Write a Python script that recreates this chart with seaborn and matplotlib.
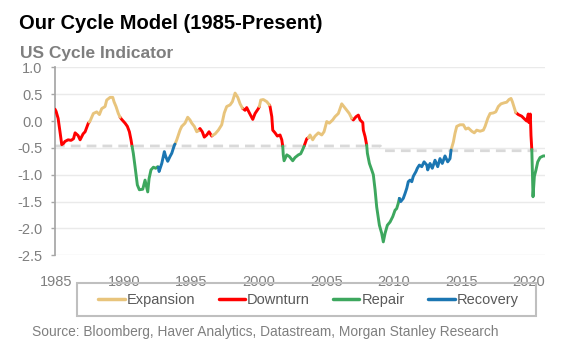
import matplotlib
matplotlib.use("Agg")
import numpy as np
import pandas as pd
import matplotlib.pyplot as plt
from matplotlib.lines import Line2D
from matplotlib.patches import Rectangle
import seaborn as sns

# US cycle indicator (year, value)
years = [1984.90, 1984.98, 1985.13, 1985.27, 1985.40, 1985.52, 1985.64, 1985.87, 1986.09, 1986.27,
         1986.39, 1986.61, 1986.76, 1986.98, 1987.13, 1987.37, 1987.44, 1987.50, 1987.74, 1987.99,
         1988.19, 1988.36, 1988.61, 1988.73, 1988.98, 1989.18, 1989.27, 1989.42, 1989.59, 1989.72,
         1989.84, 1990.09, 1990.26, 1990.41, 1990.53, 1990.61, 1990.70, 1990.83, 1991.00, 1991.15,
         1991.40, 1991.57, 1991.77, 1991.87, 1992.01, 1992.19, 1992.36, 1992.51, 1992.56, 1992.61,
         1992.81, 1993.00, 1993.10, 1993.25, 1993.42, 1993.55, 1993.74, 1993.79, 1993.92, 1994.16,
         1994.29, 1994.53, 1994.73, 1994.90, 1995.03, 1995.22, 1995.40, 1995.52, 1995.64, 1995.81,
         1995.96, 1996.14, 1996.31, 1996.51, 1996.56, 1996.76, 1997.00, 1997.25, 1997.44, 1997.62,
         1997.87, 1998.04, 1998.24, 1998.44, 1998.61, 1998.78, 1998.98, 1999.10, 1999.30, 1999.55,
         1999.72, 1999.96, 2000.04, 2000.14, 2000.33, 2000.59, 2000.78, 2000.83, 2000.96, 2001.03,
         2001.20, 2001.37, 2001.57, 2001.70, 2001.77, 2001.81, 2001.87, 2002.07, 2002.26, 2002.51,
         2002.68, 2002.93, 2003.10, 2003.25, 2003.35, 2003.42, 2003.55, 2003.67, 2003.79, 2003.99,
         2004.16, 2004.41, 2004.66, 2004.83, 2005.03, 2005.22, 2005.47, 2005.64, 2005.89, 2006.14,
         2006.39, 2006.70, 2006.88, 2007.00, 2007.20, 2007.37, 2007.50, 2007.70, 2007.74, 2007.87,
         2007.99, 2008.04, 2008.19, 2008.36, 2008.48, 2008.61, 2008.73, 2008.93, 2009.10, 2009.22,
         2009.35, 2009.52, 2009.72, 2009.92, 2010.09, 2010.21, 2010.33, 2010.41, 2010.51, 2010.70,
         2010.83, 2010.96, 2011.07, 2011.20, 2011.33, 2011.44, 2011.64, 2011.74, 2011.89, 2012.07,
         2012.24, 2012.44, 2012.51, 2012.68, 2012.85, 2013.05, 2013.25, 2013.42, 2013.59, 2013.79,
         2013.99, 2014.16, 2014.24, 2014.41, 2014.53, 2014.66, 2014.90, 2015.15, 2015.33, 2015.52,
         2015.77, 2015.96, 2016.14, 2016.39, 2016.63, 2016.76, 2016.96, 2017.13, 2017.37, 2017.55,
         2017.74, 2017.94, 2018.19, 2018.36, 2018.53, 2018.68, 2018.78, 2018.93, 2019.03, 2019.22,
         2019.47, 2019.67, 2019.84, 2019.96, 2020.01, 2020.11, 2020.16, 2020.22, 2020.26, 2020.31,
         2020.41, 2020.53, 2020.66, 2020.83, 2021.07, 2021.20]
values = [0.22, 0.18, 0.05, -0.20, -0.44, -0.42, -0.38, -0.35, -0.36, -0.33,
          -0.22, -0.27, -0.35, -0.24, -0.20, -0.04, -0.02, 0.00, 0.14, 0.17,
          0.12, 0.23, 0.27, 0.39, 0.44, 0.44, 0.36, 0.27, 0.14, 0.07,
          0.03, -0.04, -0.10, -0.20, -0.35, -0.47, -0.60, -0.85, -1.19, -1.28,
          -1.27, -1.10, -1.32, -1.07, -0.91, -0.86, -0.88, -0.85, -0.86, -0.94,
          -0.79, -0.57, -0.66, -0.75, -0.66, -0.60, -0.45, -0.43, -0.35, -0.17,
          -0.10, -0.04, 0.07, 0.02, -0.04, -0.10, -0.20, -0.18, -0.14, -0.20,
          -0.30, -0.26, -0.20, -0.28, -0.27, -0.24, -0.17, -0.07, 0.15, 0.27,
          0.30, 0.36, 0.52, 0.44, 0.32, 0.24, 0.20, 0.25, 0.15, 0.03,
          0.14, 0.23, 0.27, 0.39, 0.40, 0.36, 0.30, 0.27, 0.08, -0.17,
          -0.22, -0.28, -0.26, -0.35, -0.47, -0.63, -0.74, -0.63, -0.66, -0.74,
          -0.68, -0.63, -0.61, -0.53, -0.47, -0.42, -0.33, -0.31, -0.26, -0.35,
          -0.28, -0.22, -0.26, -0.20, -0.01, -0.04, 0.02, 0.08, 0.14, 0.32,
          0.24, 0.14, 0.05, 0.02, 0.08, 0.11, 0.02, -0.03, -0.17, -0.29,
          -0.45, -0.60, -0.79, -0.91, -1.00, -1.28, -1.60, -1.94, -2.09, -2.25,
          -2.09, -1.94, -1.88, -1.78, -1.66, -1.63, -1.53, -1.44, -1.50, -1.44,
          -1.35, -1.25, -1.13, -1.10, -1.13, -1.03, -0.94, -0.88, -0.82, -0.85,
          -0.76, -0.82, -0.91, -0.79, -0.88, -0.73, -0.85, -0.70, -0.79, -0.65,
          -0.76, -0.70, -0.54, -0.39, -0.23, -0.10, -0.07, -0.07, -0.15, -0.13,
          -0.19, -0.22, -0.17, -0.19, -0.17, -0.10, 0.05, 0.14, 0.15, 0.17,
          0.27, 0.32, 0.34, 0.35, 0.40, 0.42, 0.36, 0.24, 0.16, 0.12,
          0.09, 0.04, 0.00, 0.13, -0.03, 0.13, -0.27, -0.53, -0.91, -1.41,
          -1.03, -0.91, -0.76, -0.68, -0.65, -0.65]

# cycle phases and the year each one starts
phase_names = ['Downturn', 'Expansion', 'Downturn', 'Repair', 'Recovery', 'Expansion', 'Downturn',
               'Expansion', 'Downturn', 'Expansion', 'Downturn', 'Repair', 'Downturn', 'Expansion',
               'Downturn', 'Repair', 'Recovery', 'Expansion', 'Downturn', 'Repair']
phase_starts = [1984.90, 1987.44, 1989.72, 1990.61, 1992.56, 1993.79, 1995.52,
                1996.56, 1998.78, 2000.04, 2000.78, 2001.77, 2003.35, 2003.67,
                2006.88, 2007.99, 2010.41, 2014.24, 2019.03, 2020.22]

# grey dashed threshold line
threshold_years = [1984.90, 2009.00, 2009.25, 2020.60]
threshold_values = [-0.465, -0.465, -0.553, -0.553]

legend_order = ['Expansion', 'Downturn', 'Repair', 'Recovery']
colors = {'Expansion': '#E8C47C', 'Downturn': '#FF0000', 'Repair': '#3DA75E', 'Recovery': '#1B76B2'}

# split the series into coloured runs, sharing the boundary points
bounds = phase_starts + [years[-1]]
rows = []
for i, name in enumerate(phase_names):
    for yr, val in zip(years, values):
        if bounds[i] - 1e-6 <= yr <= bounds[i + 1] + 1e-6:
            rows.append((i, name, yr, val))
df = pd.DataFrame(rows, columns=['seg', 'phase', 'year', 'value'])

sns.set_theme(style='white')
plt.rcParams['font.family'] = ['Liberation Sans', 'DejaVu Sans']

fig = plt.figure(figsize=(5.81, 3.54), dpi=100)
ax = fig.add_axes([55 / 581, 1 - 255.3 / 354, 490.3 / 581, 188 / 354])

ax.plot(threshold_years, threshold_values, color='#D9D9D9', linestyle=(0, (3.5, 2.2)), linewidth=2, zorder=1)
sns.lineplot(data=df, x='year', y='value', hue='phase', units='seg', estimator=None, sort=False,
             palette=colors, linewidth=2.1, legend=False, ax=ax, zorder=3)

ax.set_xlim(1984.90, 2021.22)
ax.set_ylim(-2.5, 1.0)
ax.set_xticks(range(1985, 2021, 5))
ax.set_yticks(np.arange(-2.5, 1.01, 0.5))
ax.set_yticklabels([f'{v:.1f}' for v in np.arange(-2.5, 1.01, 0.5)])
ax.set_xlabel('')
ax.set_ylabel('')
ax.grid(axis='y', color='#EAEAEA', linewidth=1)
ax.set_axisbelow(True)
for side in ['top', 'right', 'bottom']:
    ax.spines[side].set_visible(False)
ax.spines['left'].set_color('#A6A6A6')
ax.tick_params(axis='y', which='both', left=True, length=3, width=1, color='#A6A6A6',
               labelsize=10.5, labelcolor='#7F7F7F', pad=6)
ax.tick_params(axis='x', bottom=False, labelsize=10.5, labelcolor='#7F7F7F', pad=8)

fig.text(19 / 581, 1 - 29.3 / 354, 'Our Cycle Model (1985-Present)', fontsize=14.5,
         fontweight='bold', color='black', va='baseline')
fig.text(20.5 / 581, 1 - 58.3 / 354, 'US Cycle Indicator', fontsize=12.5,
         fontweight='bold', color='#7F7F7F', va='baseline')

fig.patches.append(Rectangle((77 / 581, 1 - 315.7 / 354), 458.7 / 581, 32.4 / 354,
                             transform=fig.transFigure, fill=False, edgecolor='#BFBFBF', linewidth=1.5))
handles = [Line2D([0], [0], color=colors[p], linewidth=2.5) for p in legend_order]
leg = fig.legend(handles, legend_order, loc='center', bbox_to_anchor=(308.5 / 581, 1 - 300 / 354),
                 ncol=4, frameon=False, fontsize=10.5, handlelength=1.8, handletextpad=0.15,
                 columnspacing=1.6, borderpad=0)
for t in leg.get_texts():
    t.set_color('#595959')

fig.text(31.5 / 581, 1 - 335.8 / 354,
         'Source: Bloomberg, Haver Analytics, Datastream, Morgan Stanley Research',
         fontsize=9.9, color='#7F7F7F', va='baseline')

fig.savefig('out.png', dpi=100)
